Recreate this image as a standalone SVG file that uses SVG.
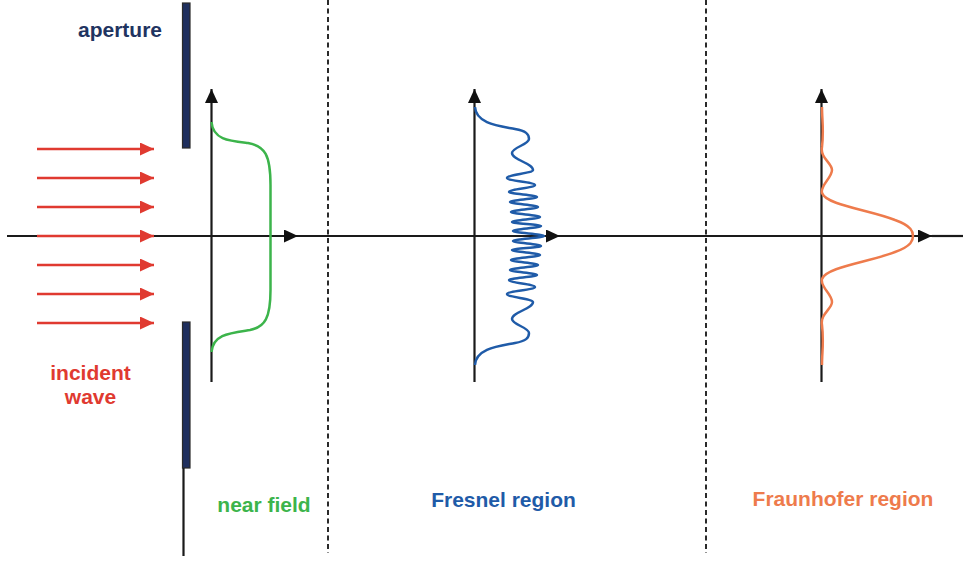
<svg xmlns="http://www.w3.org/2000/svg" width="963" height="561" viewBox="0 0 963 561">
  <style>
    .ax { stroke: #1a1a1a; stroke-width: 2.2; fill: none; }
    .dash { stroke: #2a2a2a; stroke-width: 2; stroke-dasharray: 5 3.5; fill: none; }
    .inc { stroke: #e03a30; stroke-width: 2.5; fill: none; }
    .lbl { font-family: "Liberation Sans", Arial, sans-serif; font-weight: bold; text-anchor: middle; font-size: 21px; }
    .bar { fill: #1f2f5e; stroke: #2b2b2b; stroke-width: 1.2; }
  </style>
  <defs>
    <marker id="ah" markerUnits="userSpaceOnUse" markerWidth="14" markerHeight="13" refX="14" refY="6.5" orient="auto">
      <path d="M0,0 L14,6.5 L0,13 z" fill="#111"/>
    </marker>
    <marker id="ahr" markerUnits="userSpaceOnUse" markerWidth="14" markerHeight="13" refX="14" refY="6.5" orient="auto">
      <path d="M0,0 L14,6.5 L0,13 z" fill="#e03a30"/>
    </marker>
  </defs>

  <rect width="963" height="561" fill="#ffffff"/>

  <g id="dividers">
    <line class="dash" x1="328" y1="0" x2="328" y2="553"/>
    <line class="dash" x1="706" y1="0" x2="706" y2="553"/>
  </g>

  <g id="connectors">
    <line class="ax" x1="7" y1="236" x2="298" y2="236" marker-end="url(#ah)"/>
    <line class="ax" x1="298" y1="236" x2="560" y2="236" marker-end="url(#ah)"/>
    <line class="ax" x1="560" y1="236" x2="932" y2="236" marker-end="url(#ah)"/>
    <line class="ax" x1="932" y1="236" x2="963" y2="236"/>
    <line class="ax" x1="211.5" y1="382" x2="211.5" y2="89" marker-end="url(#ah)"/>
    <line class="ax" x1="474.5" y1="382" x2="474.5" y2="89" marker-end="url(#ah)"/>
    <line class="ax" x1="821.5" y1="382" x2="821.5" y2="89" marker-end="url(#ah)"/>
  </g>

  <g id="incident-wave">
    <line class="inc" x1="37" y1="149" x2="154" y2="149" marker-end="url(#ahr)"/>
    <line class="inc" x1="37" y1="178" x2="154" y2="178" marker-end="url(#ahr)"/>
    <line class="inc" x1="37" y1="207" x2="154" y2="207" marker-end="url(#ahr)"/>
    <line class="inc" x1="37" y1="236" x2="154" y2="236" marker-end="url(#ahr)"/>
    <line class="inc" x1="37" y1="265" x2="154" y2="265" marker-end="url(#ahr)"/>
    <line class="inc" x1="37" y1="294" x2="154" y2="294" marker-end="url(#ahr)"/>
    <line class="inc" x1="37" y1="323" x2="154" y2="323" marker-end="url(#ahr)"/>
    <text class="lbl" x="90.5" y="380" fill="#e03a30">incident</text>
    <text class="lbl" x="90.5" y="404" fill="#e03a30">wave</text>
  </g>

  <g id="aperture">
    <rect class="bar" x="182.5" y="3" width="7.5" height="145"/>
    <rect class="bar" x="182.5" y="322" width="7.5" height="146"/>
    <line class="ax" x1="183.5" y1="468" x2="183.5" y2="556"/>
    <text class="lbl" x="120" y="37" fill="#1f3461">aperture</text>
  </g>

  <g id="near-field">
    <path d="M211.5,122 C213,140 230,141 248,143 C265,146 270.5,155 270.5,185 L270.5,290 C270.5,318 265,327 250,330 C230,333 213,334 211.5,352" fill="none" stroke="#3cb44b" stroke-width="2.5"/>
    <text class="lbl" x="264" y="512" fill="#3cb44b">near field</text>
  </g>

  <g id="fresnel-region">
    <path d="M475,107 C476,124 500,126 515,129 C526,131 529,134 529,139
      C529,144.6 512,147.4 512,153
      C512,159.8 533,163.2 533,170
      C533,173.2 507,174.8 507,178
      C507,180.8 535,182.2 535,185
      C535,187.8 509,189.2 509,192
      C509,194 537,195 537,197
      C537,199 510,200 510,202
      C510,204 538,205 538,207
      C538,209 511,210 511,212
      C511,214 540,215 540,217
      C540,219 512,220 512,222
      C512,223.6 541,224.4 541,226
      C541,228 513,229 513,231
      C513,233 544,234 544,236
      C544,238 513,239 513,241
      C513,243 541,244 541,246
      C541,247.6 512,248.4 512,250
      C512,252 540,253 540,255
      C540,257 511,258 511,260
      C511,262 538,263 538,265
      C538,267 510,268 510,270
      C510,272 537,273 537,275
      C537,277 509,278 509,280
      C509,282.8 535,284.2 535,287
      C535,289.8 507,291.2 507,294
      C507,297.2 533,298.8 533,302
      C533,308.8 512,312.2 512,319
      C512,324.6 529,327.4 529,333
      C529,338 526,341 515,343 C500,346 476,348 475,365" fill="none" stroke="#1f5ba8" stroke-width="2.5" stroke-linejoin="round"/>
    <text class="lbl" x="503.5" y="507" fill="#1f5ba8">Fresnel region</text>
  </g>

  <g id="fraunhofer-region">
    <path d="M822,107 C822,120 824,130 822,147 C820,158 832,163 832,170 C832,178 820,185 822,193 C826,205 870,210 895,220 C912,226 913,232 913,236 C913,240 912,246 895,252 C870,262 826,267 822,279 C820,287 832,294 832,302 C832,309 820,314 822,325 C824,342 822,352 822,365" fill="none" stroke="#ee7b4c" stroke-width="2.5"/>
    <text class="lbl" x="843" y="506" fill="#ee7b4c">Fraunhofer region</text>
  </g>
</svg>
